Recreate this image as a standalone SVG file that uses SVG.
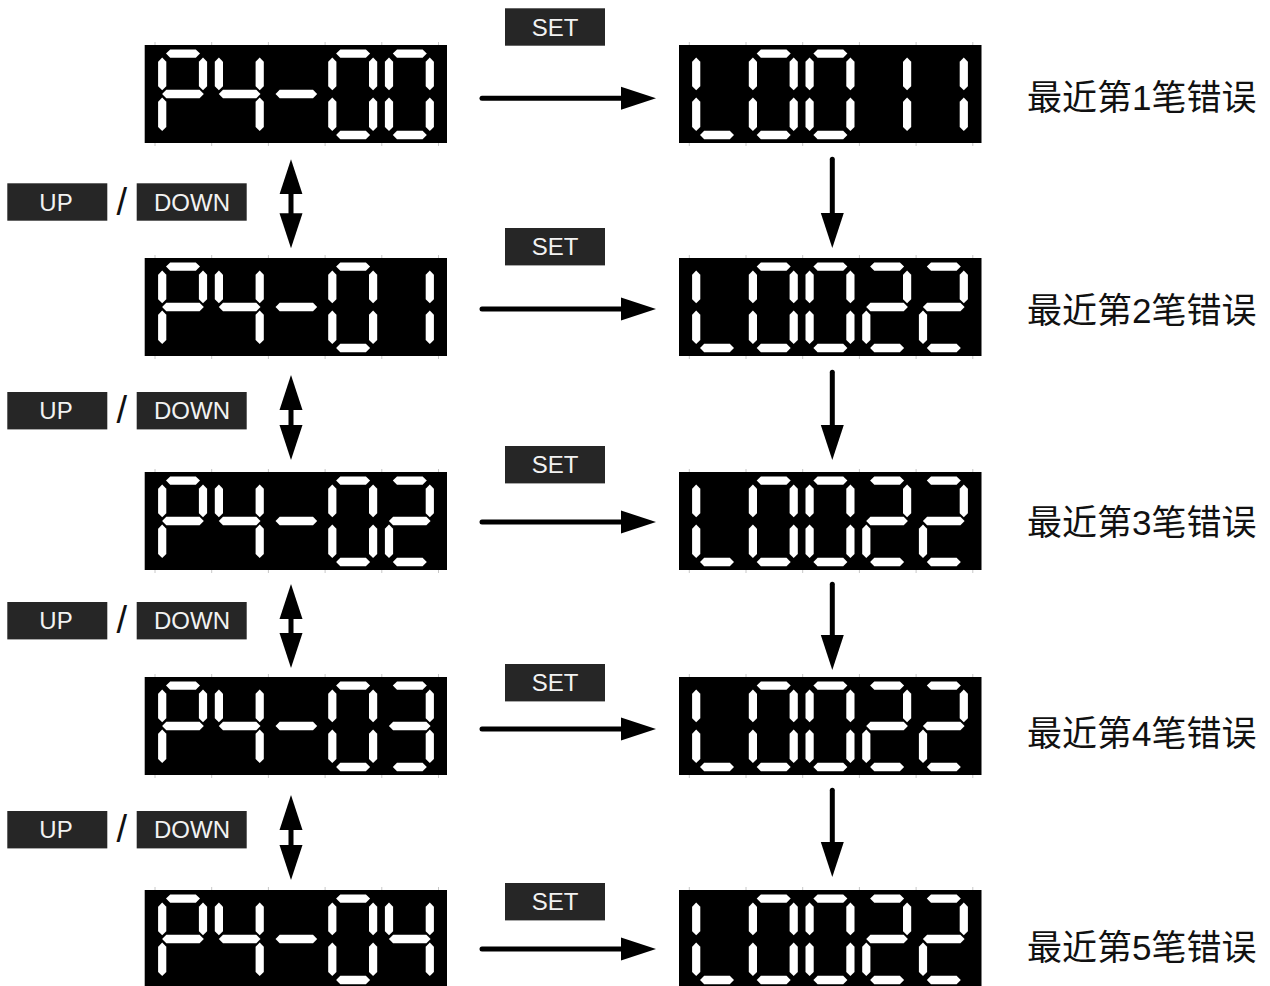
<svg xmlns="http://www.w3.org/2000/svg" xmlns:xlink="http://www.w3.org/1999/xlink" width="1270" height="986" viewBox="0 0 1270 986">
<style>
.scr{fill:#000}
.tick{stroke:#c8c8c8;stroke-width:1}
.seg{fill:#fff}
.key{fill:#262626}
.keyt{fill:#f2f2f2;font-family:"Liberation Sans",Arial,sans-serif;font-size:24px;text-anchor:middle}
.slash{fill:#111;font-family:"Liberation Sans",Arial,sans-serif;font-size:38px;text-anchor:middle}
.lbl{fill:#111;font-family:"Liberation Sans","Noto Sans CJK SC",sans-serif;font-size:35px}
.ln{stroke:#000;stroke-width:5;fill:none;stroke-linecap:round}
.h{marker-end:url(#ah)}
.d{marker-start:url(#ah);marker-end:url(#ah)}
</style>
<defs>
<marker id="ah" markerUnits="userSpaceOnUse" markerWidth="36" markerHeight="24" viewBox="0 0 36 23" refX="0" refY="11.5" orient="auto-start-reverse"><path d="M0,0 L35,11.5 L0,23 z" fill="#000"/></marker>
<polygon id="sa" class="seg" points="7.7,4 11.9,-0.2 37.5,-0.2 41.7,4 37.5,8.2 11.9,8.2"/>
<polygon id="sd" class="seg" points="7.7,85.4 11.9,81.2 37.5,81.2 41.7,85.4 37.5,89.6 11.9,89.6"/>
<polygon id="sg" class="seg" points="3.8,44.4 8,40.2 41.3,40.2 45.5,44.4 41.3,48.6 8,48.6"/>
<polygon id="sf" class="seg" points="3.9,8 8,12.1 8,36.6 3.9,40.7 -0.2,36.6 -0.2,12.1"/>
<polygon id="sb" class="seg" points="44.7,8 48.8,12.1 48.8,36.6 44.7,40.7 40.6,36.6 40.6,12.1"/>
<polygon id="se" class="seg" points="3.9,48 8,52.1 8,77.3 3.9,81.4 -0.2,77.3 -0.2,52.1"/>
<polygon id="sc" class="seg" points="44.7,48 48.8,52.1 48.8,77.3 44.7,81.4 40.6,77.3 40.6,52.1"/>
<g id="g0"><use href="#sa"/><use href="#sb"/><use href="#sc"/><use href="#sd"/><use href="#se"/><use href="#sf"/></g>
<g id="g1"><use href="#sb"/><use href="#sc"/></g>
<g id="g2"><use href="#sa"/><use href="#sb"/><use href="#sg"/><use href="#se"/><use href="#sd"/></g>
<g id="g3"><use href="#sa"/><use href="#sb"/><use href="#sg"/><use href="#sc"/><use href="#sd"/></g>
<g id="g4"><use href="#sf"/><use href="#sg"/><use href="#sb"/><use href="#sc"/></g>
<g id="gP"><use href="#sa"/><use href="#sb"/><use href="#sf"/><use href="#sg"/><use href="#se"/></g>
<g id="gL"><use href="#sf"/><use href="#se"/><use href="#sd"/></g>
<g id="gm"><use href="#sg"/></g>
<g id="ticks"><line class="tick" x1="10.3" y1="-3" x2="10.3" y2="101"/><line class="tick" x1="67" y1="-3" x2="67" y2="101"/><line class="tick" x1="123.7" y1="-3" x2="123.7" y2="101"/><line class="tick" x1="180.4" y1="-3" x2="180.4" y2="101"/><line class="tick" x1="237.1" y1="-3" x2="237.1" y2="101"/><line class="tick" x1="293.8" y1="-3" x2="293.8" y2="101"/></g>
</defs>
<rect width="1270" height="986" fill="#fff"/>

<!-- left displays -->
<g id="disp-p4-00" transform="translate(144.7,45)"><use href="#ticks"/><rect class="scr" width="302.3" height="98"/><use href="#gP" x="13.6" y="4.6"/><use href="#g4" x="70.3" y="4.6"/><use href="#gm" x="127" y="4.6"/><use href="#g0" x="183.7" y="4.6"/><use href="#g0" x="240.4" y="4.6"/></g>
<g id="disp-p4-01" transform="translate(144.7,258)"><use href="#ticks"/><rect class="scr" width="302.3" height="98"/><use href="#gP" x="13.6" y="4.6"/><use href="#g4" x="70.3" y="4.6"/><use href="#gm" x="127" y="4.6"/><use href="#g0" x="183.7" y="4.6"/><use href="#g1" x="240.4" y="4.6"/></g>
<g id="disp-p4-02" transform="translate(144.7,472)"><use href="#ticks"/><rect class="scr" width="302.3" height="98"/><use href="#gP" x="13.6" y="4.6"/><use href="#g4" x="70.3" y="4.6"/><use href="#gm" x="127" y="4.6"/><use href="#g0" x="183.7" y="4.6"/><use href="#g2" x="240.4" y="4.6"/></g>
<g id="disp-p4-03" transform="translate(144.7,677)"><use href="#ticks"/><rect class="scr" width="302.3" height="98"/><use href="#gP" x="13.6" y="4.6"/><use href="#g4" x="70.3" y="4.6"/><use href="#gm" x="127" y="4.6"/><use href="#g0" x="183.7" y="4.6"/><use href="#g3" x="240.4" y="4.6"/></g>
<g id="disp-p4-04" transform="translate(144.7,890)"><use href="#ticks"/><rect class="scr" width="302.3" height="98"/><use href="#gP" x="13.6" y="4.6"/><use href="#g4" x="70.3" y="4.6"/><use href="#gm" x="127" y="4.6"/><use href="#g0" x="183.7" y="4.6"/><use href="#g4" x="240.4" y="4.6"/></g>

<!-- right displays -->
<g id="disp-err1" transform="translate(679,45)"><use href="#ticks"/><rect class="scr" width="302.5" height="98"/><use href="#gL" x="13.3" y="4.6"/><use href="#g0" x="70" y="4.6"/><use href="#g0" x="126.7" y="4.6"/><use href="#g1" x="183.4" y="4.6"/><use href="#g1" x="240.1" y="4.6"/></g>
<g id="disp-err2" transform="translate(679,258)"><use href="#ticks"/><rect class="scr" width="302.5" height="98"/><use href="#gL" x="13.3" y="4.6"/><use href="#g0" x="70" y="4.6"/><use href="#g0" x="126.7" y="4.6"/><use href="#g2" x="183.4" y="4.6"/><use href="#g2" x="240.1" y="4.6"/></g>
<g id="disp-err3" transform="translate(679,472)"><use href="#ticks"/><rect class="scr" width="302.5" height="98"/><use href="#gL" x="13.3" y="4.6"/><use href="#g0" x="70" y="4.6"/><use href="#g0" x="126.7" y="4.6"/><use href="#g2" x="183.4" y="4.6"/><use href="#g2" x="240.1" y="4.6"/></g>
<g id="disp-err4" transform="translate(679,677)"><use href="#ticks"/><rect class="scr" width="302.5" height="98"/><use href="#gL" x="13.3" y="4.6"/><use href="#g0" x="70" y="4.6"/><use href="#g0" x="126.7" y="4.6"/><use href="#g2" x="183.4" y="4.6"/><use href="#g2" x="240.1" y="4.6"/></g>
<g id="disp-err5" transform="translate(679,890)"><use href="#ticks"/><rect class="scr" width="302.5" height="98"/><use href="#gL" x="13.3" y="4.6"/><use href="#g0" x="70" y="4.6"/><use href="#g0" x="126.7" y="4.6"/><use href="#g2" x="183.4" y="4.6"/><use href="#g2" x="240.1" y="4.6"/></g>

<!-- SET keys -->
<g id="set1"><rect class="key" x="505" y="8.3" width="100" height="37.4"/><text class="keyt" x="555" y="35.6">SET</text></g>
<g id="set2"><rect class="key" x="505" y="228" width="100" height="37.4"/><text class="keyt" x="555" y="255.3">SET</text></g>
<g id="set3"><rect class="key" x="505" y="446" width="100" height="37.4"/><text class="keyt" x="555" y="473.3">SET</text></g>
<g id="set4"><rect class="key" x="505" y="664" width="100" height="37.4"/><text class="keyt" x="555" y="691.3">SET</text></g>
<g id="set5"><rect class="key" x="505" y="883" width="100" height="37.4"/><text class="keyt" x="555" y="910.3">SET</text></g>

<!-- UP / DOWN keys -->
<g id="updown1"><rect class="key" x="7.3" y="183.3" width="100" height="37.4"/><text class="keyt" x="56" y="210.6">UP</text><text class="slash" x="121.7" y="214.5">/</text><rect class="key" x="136.7" y="183.3" width="110" height="37.4"/><text class="keyt" x="192" y="210.6">DOWN</text></g>
<g id="updown2"><rect class="key" x="7.3" y="392" width="100" height="37.4"/><text class="keyt" x="56" y="419.3">UP</text><text class="slash" x="121.7" y="423.2">/</text><rect class="key" x="136.7" y="392" width="110" height="37.4"/><text class="keyt" x="192" y="419.3">DOWN</text></g>
<g id="updown3"><rect class="key" x="7.3" y="602" width="100" height="37.4"/><text class="keyt" x="56" y="629.3">UP</text><text class="slash" x="121.7" y="633.2">/</text><rect class="key" x="136.7" y="602" width="110" height="37.4"/><text class="keyt" x="192" y="629.3">DOWN</text></g>
<g id="updown4"><rect class="key" x="7.3" y="811" width="100" height="37.4"/><text class="keyt" x="56" y="838.3">UP</text><text class="slash" x="121.7" y="842.2">/</text><rect class="key" x="136.7" y="811" width="110" height="37.4"/><text class="keyt" x="192" y="838.3">DOWN</text></g>

<!-- labels -->
<g id="label1"><text class="lbl" x="1027" y="110">最近第1笔错误</text></g>
<g id="label2"><text class="lbl" x="1027" y="323">最近第2笔错误</text></g>
<g id="label3"><text class="lbl" x="1027" y="535">最近第3笔错误</text></g>
<g id="label4"><text class="lbl" x="1027" y="746">最近第4笔错误</text></g>
<g id="label5"><text class="lbl" x="1027" y="960">最近第5笔错误</text></g>

<!-- connectors -->
<g id="connectors">
<line class="ln h" x1="482" y1="98.3" x2="621" y2="98.3"/>
<line class="ln h" x1="482" y1="309" x2="621" y2="309"/>
<line class="ln h" x1="482" y1="522" x2="621" y2="522"/>
<line class="ln h" x1="482" y1="729" x2="621" y2="729"/>
<line class="ln h" x1="482" y1="949" x2="621" y2="949"/>
<line class="ln h" x1="832.3" y1="159.3" x2="832.3" y2="213"/>
<line class="ln h" x1="832.3" y1="372.3" x2="832.3" y2="425"/>
<line class="ln h" x1="832.3" y1="584.3" x2="832.3" y2="635"/>
<line class="ln h" x1="832.3" y1="790.3" x2="832.3" y2="842"/>
<line class="ln d" x1="291" y1="194.3" x2="291" y2="213.3"/>
<line class="ln d" x1="291" y1="410" x2="291" y2="425"/>
<line class="ln d" x1="291" y1="619" x2="291" y2="633"/>
<line class="ln d" x1="291" y1="830" x2="291" y2="845"/>
</g>
</svg>
